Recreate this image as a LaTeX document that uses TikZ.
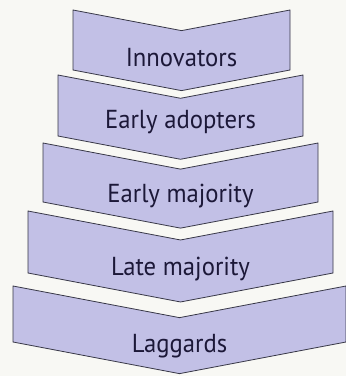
\documentclass[tikz,border=0pt]{standalone}
\usepackage{fontspec}
\setmainfont{PT Sans}
\usepackage{xcolor}
\usepackage{tikz}

\definecolor{paper}{RGB}{248,248,244}
\definecolor{lavender}{RGB}{194,192,230}
\definecolor{rim}{RGB}{55,55,70}
\definecolor{ink}{RGB}{28,24,56}

\begin{document}
\begin{tikzpicture}[x=0.75pt,y=-0.75pt]
	\tikzstyle{chevron}=[fill=lavender,draw=rim,line width=0.6pt,line join=miter]
	\tikzstyle{stage}=[anchor=base,text=ink,font=\fontsize{19.5}{23}\selectfont,inner sep=0pt,xscale=0.95]
	\fill[paper] (0,0) rectangle (346,376);
	\useasboundingbox (0,0) rectangle (346,376);
	\foreach \xl/\xr/\yt/\hh/\yb/\txt/\nm in {
			73/290/10/60/66/Innovators/innov,
			58/303/75/61/128/Early adopters/early,
			43/318/143/59/202/Early majority/earlymaj,
			28/333/211/62/275/Late majority/latemaj,
			13/346/286/56/352/Laggards/lagg}{
		\pgfmathsetmacro\xm{(\xl+\xr)/2}
		\pgfmathsetmacro\dd{0.19*(\xr-\xl)/2}
		\draw[chevron] (\xl,\yt) -- (\xm,{\yt+\dd}) -- (\xr,\yt) -- (\xr,{\yt+\hh})
			-- (\xm,{\yt+\hh+\dd}) -- (\xl,{\yt+\hh}) -- cycle;
		\node[stage] (\nm) at (\xm,\yb) {\txt};
	}
\end{tikzpicture}
\end{document}
